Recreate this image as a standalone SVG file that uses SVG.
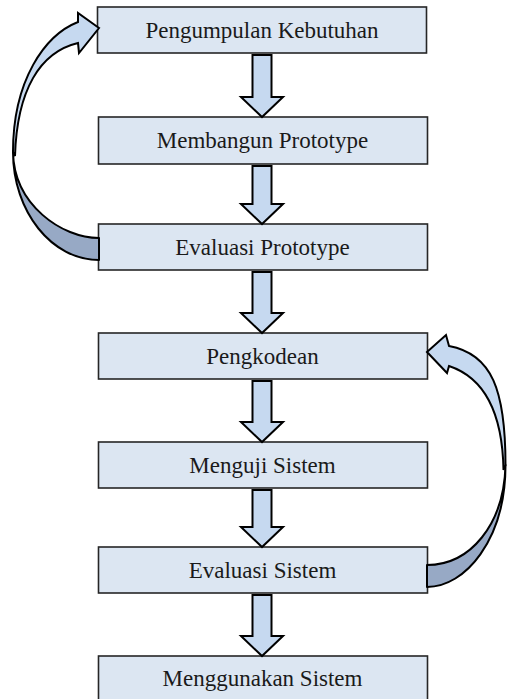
<svg xmlns="http://www.w3.org/2000/svg" width="507" height="699" viewBox="0 0 507 699">
<style>
.box{fill:#dce6f2;stroke:#262626;stroke-width:1.6}
.arr{fill:#c6d9f0;stroke:#000;stroke-width:2;stroke-linejoin:miter}
.back{fill:#97a9c5;stroke:#000;stroke-width:2;stroke-linejoin:round}
</style>
<rect width="507" height="699" fill="#fff"/>
<g id="nodes" font-family="Liberation Serif" font-size="23" fill="#1a1a1a" text-anchor="middle">
<g id="n1"><rect class="box" x="97.5" y="7" width="329" height="46"/><text font-family="Liberation Serif" x="262" y="37.5">Pengumpulan Kebutuhan</text></g>
<g id="n2"><rect class="box" x="98.5" y="117" width="329" height="47"/><text font-family="Liberation Serif" x="262.5" y="148">Membangun Prototype</text></g>
<g id="n3"><rect class="box" x="98.5" y="224" width="329" height="46"/><text font-family="Liberation Serif" x="262.5" y="254.5">Evaluasi Prototype</text></g>
<g id="n4"><rect class="box" x="98.5" y="333" width="329" height="46"/><text font-family="Liberation Serif" x="262.5" y="363.5">Pengkodean</text></g>
<g id="n5"><rect class="box" x="98.5" y="442" width="329" height="46"/><text font-family="Liberation Serif" x="262.5" y="472.5">Menguji Sistem</text></g>
<g id="n6"><rect class="box" x="98.5" y="547" width="329" height="46"/><text font-family="Liberation Serif" x="262.5" y="577.5">Evaluasi Sistem</text></g>
<g id="n7"><rect class="box" x="98.5" y="656" width="329" height="48"/><text font-family="Liberation Serif" x="262.5" y="686">Menggunakan Sistem</text></g>
</g>
<g id="connectors">
<path class="arr" d="M252.5,55 L271.5,55 L271.5,97 L283,97 L262,117 L241,97 L252.5,97 Z"/>
<path class="arr" d="M252.5,166 L271.5,166 L271.5,204 L283,204 L262,224 L241,204 L252.5,204 Z"/>
<path class="arr" d="M252.5,272 L271.5,272 L271.5,313 L283,313 L262,333 L241,313 L252.5,313 Z"/>
<path class="arr" d="M252.5,381 L271.5,381 L271.5,422 L283,422 L262,442 L241,422 L252.5,422 Z"/>
<path class="arr" d="M252.5,490 L271.5,490 L271.5,527 L283,527 L262,547 L241,527 L252.5,527 Z"/>
<path class="arr" d="M252.5,595 L271.5,595 L271.5,636 L283,636 L262,656 L241,636 L252.5,636 Z"/>
<g id="loop1">
<path class="back" d="M99,238 C62,238 14,205 13,152 C13,212 52,260 99,260 Z"/>
<path class="arr" d="M99,28 L78,13 L78,22 C45,35 13,80 13,152 L15,156 C17,90 40,52 78,43 L79,53 Z"/>
</g>
<g id="loop2">
<path class="back" d="M427,565 C470,565 504,525 505.5,465 C505.5,540 465,587 427,587 Z"/>
<path class="arr" d="M427,352 L446,335 L449,346 C492,354 505.5,390 505.5,465 L503.5,470 C502.5,415 485,378 449,366 L447,373 Z"/>
</g>
</g>
</svg>
